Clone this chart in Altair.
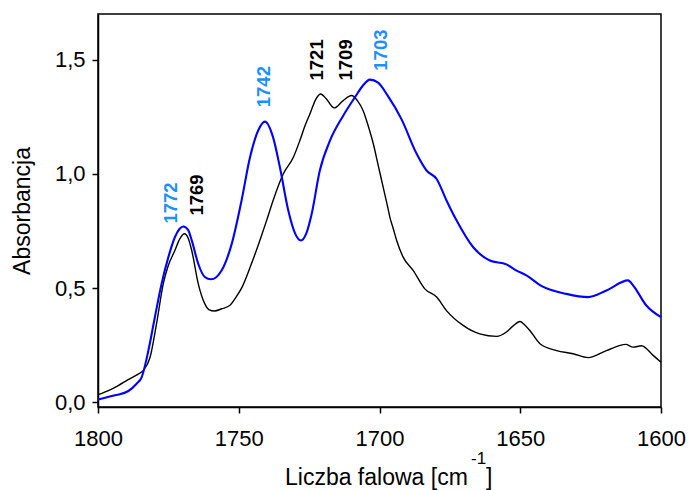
import altair as alt
import pandas as pd

# Spectrum 1 (black trace): wavenumber [cm-1] and absorbance
black_wn = [1800, 1796.3, 1792.8, 1789.3, 1786, 1783.9, 1781.5, 1779.2, 1776.8, 1775,
            1772.7, 1771, 1769.3, 1768, 1766.7, 1764.4, 1762, 1760.5, 1758.7, 1756,
            1753.1, 1751, 1749, 1746, 1742.5, 1740, 1737.8, 1734.2, 1730.6, 1728.3,
            1726.5, 1724.7, 1722.5, 1720.9, 1719, 1716.1, 1713, 1709.9, 1707.8, 1705.8,
            1704, 1702.2, 1700.5, 1698.7, 1697, 1696.3, 1695.1, 1693.9, 1691.6, 1688,
            1683.9, 1679.7, 1676.2, 1670.3, 1664.4, 1658.4, 1654.9, 1652.5, 1650.1, 1648.5,
            1646.6, 1643, 1637.1, 1631.2, 1625.9, 1619.4, 1612.5, 1609.9, 1606.9, 1602.8,
            1600]
black_abs = [0.034, 0.052, 0.074, 0.100, 0.122, 0.140, 0.198, 0.345, 0.520, 0.600,
             0.665, 0.715, 0.738, 0.720, 0.665, 0.520, 0.430, 0.405, 0.400, 0.410,
             0.425, 0.460, 0.500, 0.590, 0.709, 0.800, 0.884, 1.000, 1.073, 1.146,
             1.210, 1.263, 1.330, 1.350, 1.330, 1.289, 1.320, 1.343, 1.320, 1.277,
             1.210, 1.132, 1.040, 0.942, 0.850, 0.810, 0.760, 0.709, 0.636, 0.577,
             0.497, 0.461, 0.402, 0.337, 0.300, 0.289, 0.308, 0.335, 0.354, 0.340,
             0.315, 0.257, 0.227, 0.213, 0.196, 0.227, 0.254, 0.242, 0.248, 0.206,
             0.176]

# Spectrum 2 (blue trace)
blue_wn = [1800, 1794, 1789.2, 1786.3, 1784.5, 1782.1, 1779.8, 1777.4, 1775, 1772.7,
           1771, 1769.7, 1768, 1766.7, 1764.4, 1762, 1759.9, 1758, 1756.1, 1752.5,
           1749, 1746, 1743.1, 1740.7, 1737.8, 1735.4, 1732.4, 1730, 1727.9, 1726,
           1724.1, 1721.2, 1717.6, 1712.9, 1708.7, 1706, 1703.4, 1700.5, 1697.2, 1692.2,
           1686.8, 1683.3, 1679.7, 1676.2, 1672.6, 1666.7, 1660.8, 1654.9, 1651.3, 1647.8,
           1642.5, 1633.6, 1625.9, 1619.4, 1611.7, 1609.9, 1605.2, 1600]
blue_abs = [0.013, 0.031, 0.050, 0.082, 0.110, 0.227, 0.373, 0.520, 0.636, 0.723,
            0.760, 0.770, 0.755, 0.709, 0.607, 0.548, 0.539, 0.548, 0.577, 0.694,
            0.884, 1.073, 1.190, 1.229, 1.160, 1.030, 0.840, 0.740, 0.709, 0.740,
            0.825, 1.015, 1.146, 1.255, 1.336, 1.385, 1.413, 1.400, 1.345, 1.240,
            1.088, 1.015, 0.978, 0.884, 0.796, 0.679, 0.621, 0.604, 0.577, 0.556,
            0.510, 0.475, 0.461, 0.490, 0.534, 0.512, 0.424, 0.373]

# Peak annotations (vertical text, anchored at its lower end)
peak_text = ["1772", "1769", "1742", "1721", "1709", "1703"]
peak_wn = [1774.1, 1764.9, 1741.0, 1722.3, 1711.9, 1699.3]
peak_abs = [0.783, 0.818, 1.292, 1.409, 1.409, 1.452]
peak_series = ["B", "A", "B", "A", "A", "B"]

FONT = "Liberation Sans"

spectra = pd.concat([
    pd.DataFrame({"wn": black_wn, "abs": black_abs, "series": "A"}),
    pd.DataFrame({"wn": blue_wn, "abs": blue_abs, "series": "B"}),
])
peaks = pd.DataFrame({"text": peak_text, "wn": peak_wn, "abs": peak_abs,
                      "series": peak_series})

x_scale = alt.Scale(domain=[1600, 1800], reverse=True, nice=False, zero=False)
y_scale = alt.Scale(domain=[-0.02, 1.7], nice=False, zero=False)

x_axis = alt.Axis(values=[1600, 1650, 1700, 1750, 1800], format="d", title=None,
                  labelFontSize=22, labelFont=FONT, labelColor="#000",
                  tickSize=6, tickColor="#000", tickWidth=1.5,
                  domainColor="#000", domainWidth=1.5, labelPadding=15,
                  grid=False, labelFlush=False)
y_axis = alt.Axis(values=[0, 0.5, 1.0, 1.5],
                  labelExpr="replace(format(datum.value, '.1f'), '.', ',')",
                  title="Absorbancja", titleFont=FONT, titleFontSize=23,
                  titleFontWeight="normal", titleColor="#000",
                  titleX=-76, titleY=196.5, titleAngle=270,
                  titleAlign="center", titleBaseline="middle",
                  labelFontSize=22, labelFont=FONT, labelColor="#000",
                  tickSize=6, tickColor="#000", tickWidth=1.5,
                  domainColor="#000", domainWidth=1.5, labelPadding=7,
                  grid=False, labelFlush=False)

lines = alt.Chart(spectra).mark_line(interpolate="monotone").encode(
    x=alt.X("wn:Q", scale=x_scale, axis=x_axis),
    y=alt.Y("abs:Q", scale=y_scale, axis=y_axis),
    color=alt.Color("series:N", scale=alt.Scale(domain=["A", "B"],
                                                range=["#000000", "#0000ff"]),
                    legend=None),
    strokeWidth=alt.StrokeWidth("series:N", scale=alt.Scale(domain=["A", "B"],
                                                            range=[1.4, 2.1]),
                                legend=None),
)

labels = alt.Chart(peaks).mark_text(
    angle=270, align="left", baseline="middle", font=FONT,
    fontSize=18.5, fontWeight="bold"
).encode(
    x=alt.X("wn:Q", scale=x_scale),
    y=alt.Y("abs:Q", scale=y_scale),
    text="text:N",
    color=alt.Color("series:N", scale=alt.Scale(domain=["A", "B"],
                                                range=["#000000", "#1e8fff"]),
                    legend=None),
)

# x-axis title with superscript unit exponent
title_df = pd.DataFrame({"t": ["Liczba falowa [cm"]})
title_main = alt.Chart(title_df).mark_text(
    align="left", baseline="alphabetic", font=FONT, fontSize=23, color="#000"
).encode(text="t:N", x=alt.value(187), y=alt.value(471))
sup_df = pd.DataFrame({"t": ["-1"]})
title_sup = alt.Chart(sup_df).mark_text(
    align="left", baseline="alphabetic", font=FONT, fontSize=17, color="#000"
).encode(text="t:N", x=alt.value(373), y=alt.value(450))
br_df = pd.DataFrame({"t": ["]"]})
title_br = alt.Chart(br_df).mark_text(
    align="left", baseline="alphabetic", font=FONT, fontSize=23, color="#000"
).encode(text="t:N", x=alt.value(388), y=alt.value(471))

chart = alt.layer(lines, labels, title_main, title_sup, title_br).resolve_scale(
    color="independent"
).properties(
    width=563, height=393,
    autosize=alt.AutoSizeParams(type="none"),
    padding={"left": 98, "top": 14, "right": 27, "bottom": 83},
    background="white",
).configure_view(stroke="#000", strokeWidth=1.5)

chart.save("out.html", embed_options={"renderer": "svg", "actions": False})
